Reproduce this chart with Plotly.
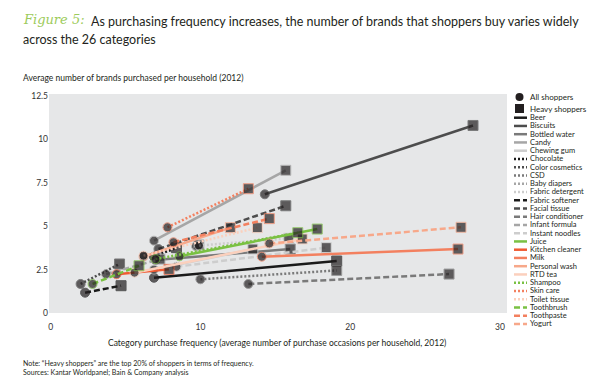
import plotly.graph_objects as go

# ---------------- data ----------------
categories = ["Beer", "Biscuits", "Bottled water", "Candy", "Chewing gum", "Chocolate",
              "Color cosmetics", "CSD", "Baby diapers", "Fabric detergent", "Fabric softener",
              "Facial tissue", "Hair conditioner", "Infant formula", "Instant noodles", "Juice",
              "Kitchen cleaner", "Milk", "Personal wash", "RTD tea", "Shampoo", "Skin care",
              "Toilet tissue", "Toothbrush", "Toothpaste", "Yogurt"]
all_freq = [6.9, 14.3, 7.0, 6.9, 6.9, 6.9, 2.0, 10.0, 9.7, 9.9, 2.3, 7.2, 13.2, 3.7, 8.4, 8.6,
            4.4, 14.1, 6.2, 5.6, 7.0, 7.8, 6.2, 2.8, 8.2, 14.6]
all_brands = [2.03, 6.83, 3.05, 4.16, 2.5, 3.24, 1.67, 1.94, 3.85, 3.88, 1.17, 3.68, 1.67, 2.24,
              2.66, 3.26, 2.23, 3.24, 3.24, 2.32, 3.1, 4.93, 3.3, 1.67, 4.07, 4.0]
heavy_freq = [19.1, 28.2, 16.0, 15.7, 13.5, 8.4, 4.6, 19.1, 9.9, 15.9, 4.7, 15.7, 26.6, 7.3, 18.4,
              17.8, 7.9, 27.2, 12.0, 16.8, 16.5, 13.2, 13.8, 5.9, 14.6, 27.4]
heavy_brands = [2.99, 10.79, 3.68, 8.21, 3.68, 3.76, 2.82, 2.45, 3.92, 4.3, 1.57, 6.17, 2.24, 3.1,
                3.76, 4.83, 2.51, 3.68, 4.91, 4.26, 4.62, 7.15, 4.91, 2.72, 5.43, 4.93]
x_ticks = [0, 10, 20, 30]
y_ticks = [0, 2.5, 5, 7.5, 10, 12.5]
y_tick_labels = ["0", "2.5", "5", "7.5", "10", "12.5"]

# ---------------- styles ----------------
line_colors = ["#1a1a1a", "#4d4d4d", "#7a7a7a", "#a6a6a6", "#cdcdcd",
               "#1a1a1a", "#4d4d4d", "#7a7a7a", "#a6a6a6", "#cdcdcd",
               "#1a1a1a", "#4d4d4d", "#7a7a7a", "#a6a6a6", "#cdcdcd",
               "#7ac143", "#f05a32", "#f3805f", "#f7a88a", "#fbd0bd",
               "#7ac143", "#f3805f", "#fbd0bd",
               "#7ac143", "#f3805f", "#f7a88a"]
DOT = "2px,2px"
DASH = "6px,3px"
line_dashes = ["solid"] * 5 + [DOT] * 5 + [DASH] * 5 + ["solid"] * 5 + [DOT] * 3 + [DASH] * 3
MARK = "#231f20"
FONT = "Lato"
TXT = "#231f20"

W, H = 600, 379
L, R, T, B = 49, 93, 94, 66
pw, ph = W - L - R, H - T - B


def px(x):
    return (x - L) / pw


def py(y):
    return (H - B - y) / ph


fig = go.Figure()
for i, cat in enumerate(categories):
    fig.add_trace(go.Scatter(
        x=[all_freq[i], heavy_freq[i]], y=[all_brands[i], heavy_brands[i]],
        mode="lines+markers", name=cat, showlegend=False,
        line=dict(color=line_colors[i], width=2.5, dash=line_dashes[i]),
        marker=dict(symbol=["circle", "square"], size=[9, 10], color=MARK),
        hoverinfo="skip"))

shapes = []
annotations = []


def label(text, x, y, size, anchor="left", family=FONT, color=TXT):
    annotations.append(dict(text=text, xref="paper", yref="paper", x=px(x), y=py(y),
                            xanchor=anchor, yanchor="middle", showarrow=False,
                            font=dict(family=family, size=size, color=color)))


# manual legend
lx0, lx1, ltext = 514, 527, 528
shapes.append(dict(type="circle", xref="paper", yref="paper", xsizemode="pixel", ysizemode="pixel",
                   xanchor=px(519.5), yanchor=py(97), x0=-4, x1=4, y0=-4, y1=4,
                   fillcolor=MARK, line=dict(width=0)))
shapes.append(dict(type="rect", xref="paper", yref="paper", xsizemode="pixel", ysizemode="pixel",
                   xanchor=px(519.5), yanchor=py(108.5), x0=-4.5, x1=4.5, y0=-4.5, y1=4.5,
                   fillcolor=MARK, line=dict(width=0)))
label("All shoppers", ltext, 97, 8)
label("Heavy shoppers", ltext, 108.5, 8)
y0_leg, step = 117.7, 8.25
for i, cat in enumerate(categories):
    yy = y0_leg + i * step
    shapes.append(dict(type="line", xref="paper", yref="paper", x0=px(lx0), x1=px(lx1),
                       y0=py(yy), y1=py(yy),
                       line=dict(color=line_colors[i], width=2.5, dash=line_dashes[i])))
    label(cat, ltext, yy, 7.5)

# titles and notes
label("<i>Figure 5:</i>", 21, 20, 13, family="DejaVu Serif", color="#9ccb5b")
label("As purchasing frequency increases, the number of brands that shoppers buy varies widely",
      89, 21, 12.5)
label("across the 26 categories", 21, 40, 12.5)
label("Average number of brands purchased per household (2012)", 21, 78, 8.5)
label("Category purchase frequency (average number of purchase occasions per household, 2012)",
      277, 343, 8.5, anchor="center")
label("Note: \u201cHeavy shoppers\u201d are the top 20% of shoppers in terms of frequency.", 21, 363, 7)
label("Sources: Kantar Worldpanel; Bain &amp; Company analysis", 21, 372, 7)

fig.update_layout(
    width=W, height=H, margin=dict(l=L, r=R, t=T, b=B, autoexpand=False),
    paper_bgcolor="white", plot_bgcolor="#e6e7e8",
    showlegend=False, shapes=shapes, annotations=annotations,
    xaxis=dict(range=[-0.11, 30.47], tickvals=x_ticks, showgrid=False, zeroline=False,
               showline=False, ticks="outside", ticklen=6, tickcolor="rgba(0,0,0,0)",
               tickfont=dict(family=FONT, size=8.5, color="#333")),
    yaxis=dict(range=[0, 12.6], tickvals=y_ticks, ticktext=y_tick_labels, showgrid=False,
               zeroline=False, showline=False, ticks="",
               tickfont=dict(family=FONT, size=8.5, color="#333")),
)

fig.write_html("out.html", config={"displayModeBar": False},
               post_script="document.body.style.margin='0px';document.body.style.overflow='hidden';")
